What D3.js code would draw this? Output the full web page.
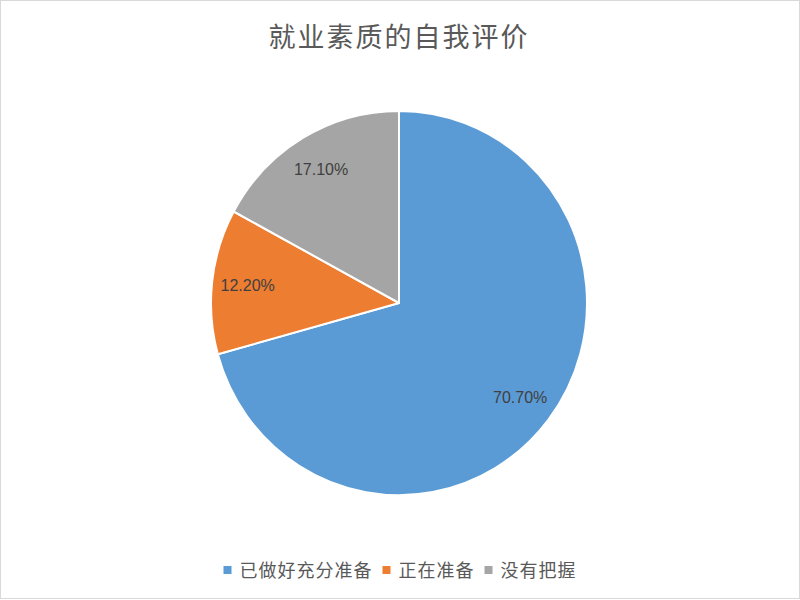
<!DOCTYPE html>
<html>
<head>
<meta charset="utf-8">
<script src="https://cdn.jsdelivr.net/npm/d3@7"></script>
<style>
  body { margin: 0; background: #fff; }
  svg { display: block; }
</style>
</head>
<body>
<svg id="chart" width="800" height="600"></svg>
<script>
const categories = ["已做好充分准备", "正在准备", "没有把握"];
const values = [70.7, 12.2, 17.1];
const colors = ["#5B9BD5", "#ED7D31", "#A5A5A5"];
const titleText = "就业素质的自我评价";

const svg = d3.select('#chart');

// outer frame
svg.append('rect')
    .attr('x', 0.5).attr('y', 0.5)
    .attr('width', 799).attr('height', 598)
    .attr('fill', '#fff')
    .attr('stroke', '#d9d9d9');

svg.append('text')
    .attr('x', 399)
    .attr('y', 47)
    .attr('text-anchor', 'middle')
    .attr('font-family', '"Noto Sans CJK SC", sans-serif')
    .attr('font-size', 27)
    .attr('letter-spacing', 2)
    .attr('fill', '#595959')
    .text(titleText);

const cx = 399, cy = 303, R = 188, ys = 1.022;

const data = categories.map((c, i) => ({ name: c, value: values[i], color: colors[i] }));
const pie = d3.pie().sort(null).value(d => d.value);
const arcs = pie(data);
const arc = d3.arc().innerRadius(0).outerRadius(R);
const labelArc = d3.arc().innerRadius(R * 0.81).outerRadius(R * 0.81);

svg.append('g')
    .attr('transform', `translate(${cx},${cy}) scale(1,${ys})`)
    .selectAll('path')
    .data(arcs)
    .enter()
    .append('path')
    .attr('d', arc)
    .attr('fill', d => d.data.color)
    .attr('stroke', '#fff')
    .attr('stroke-width', 2)
    .attr('stroke-linejoin', 'round');

svg.append('g')
    .attr('transform', `translate(${cx},${cy})`)
    .selectAll('text')
    .data(arcs)
    .enter()
    .append('text')
    .attr('x', d => labelArc.centroid(d)[0])
    .attr('y', d => labelArc.centroid(d)[1] * ys)
    .attr('dy', '0.36em')
    .attr('text-anchor', 'middle')
    .attr('font-family', '"Liberation Sans", Arial, sans-serif')
    .attr('font-size', 16)
    .attr('fill', '#404040')
    .text(d => d.data.value.toFixed(2) + '%');

// legend, centred under the pie
const legend = svg.append('g');
const items = legend.selectAll('g')
    .data(data)
    .enter()
    .append('g');

items.append('rect')
    .attr('width', 8).attr('height', 8)
    .attr('y', -11)
    .attr('fill', d => d.color);

items.append('text')
    .attr('x', 16)
    .attr('font-family', '"Noto Sans CJK SC", sans-serif')
    .attr('font-size', 18)
    .attr('letter-spacing', 1)
    .attr('fill', '#595959')
    .text(d => d.name);

let xpos = 0;
items.each(function() {
  const w = 16 + this.querySelector('text').getComputedTextLength();
  d3.select(this).attr('transform', `translate(${xpos},0)`);
  xpos += w + 10;
});
legend.attr('transform', `translate(${400 - (xpos - 10) / 2},577)`);
</script>
</body>
</html>
